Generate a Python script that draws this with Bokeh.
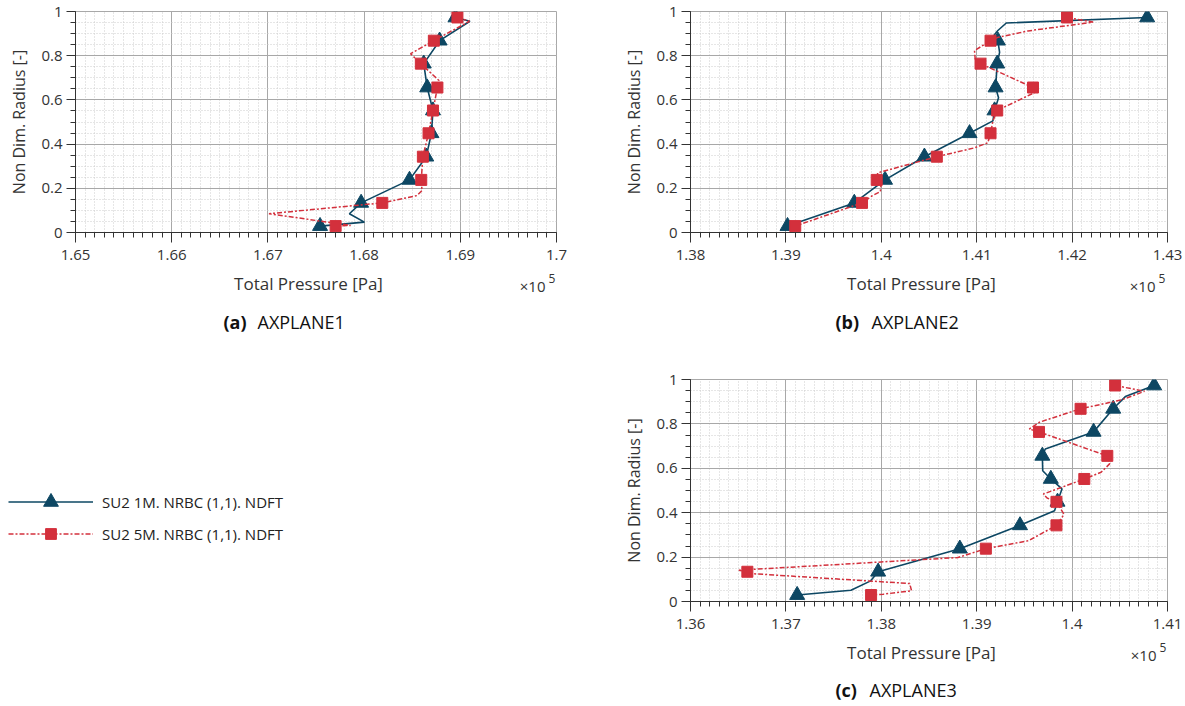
from bokeh.plotting import figure
from bokeh.layouts import row, column
from bokeh.models import (Range1d, SingleIntervalTicker, PrintfTickFormatter, Label,
                          Legend, LegendItem)
from bokeh.embed import file_html
from bokeh.resources import INLINE

FONT = "Open Sans"
BLUE = "#0d4763"
RED = "#d3303c"
TXT = "#333333"

# ---------------- data (Total pressure in 1e5 Pa, non-dim radius) ----------------
r_markers = [0.029, 0.134, 0.238, 0.343, 0.449, 0.552, 0.656, 0.764, 0.868, 0.973]

# AXPLANE1
a_1m_markers = [1.67542, 1.67969, 1.68472, 1.68646, 1.68700, 1.68716, 1.68656, 1.68620, 1.68785, 1.68950]
a_5m_markers = [1.67704, 1.68189, 1.68594, 1.68611, 1.68670, 1.68716, 1.68762, 1.68590, 1.68725, 1.68970]
a_1m_curve_p = [1.68950, 1.69100, 1.68785, 1.68620, 1.68656, 1.68716, 1.68700, 1.68646, 1.68472,
                1.67969, 1.67847, 1.68003, 1.67542]
a_1m_curve_r = [0.973, 0.956, 0.868, 0.764, 0.656, 0.552, 0.449, 0.343, 0.238,
                0.134, 0.085, 0.047, 0.029]
a_5m_curve_p = [1.68970, 1.69095, 1.68725, 1.68483, 1.68590, 1.68778, 1.68762, 1.68716, 1.68670,
                1.68611, 1.68594, 1.68602, 1.68550, 1.68189, 1.67011, 1.67860, 1.67704]
a_5m_curve_r = [0.973, 0.956, 0.868, 0.809, 0.764, 0.688, 0.656, 0.552, 0.449,
                0.343, 0.238, 0.190, 0.167, 0.134, 0.085, 0.032, 0.029]

# AXPLANE2
b_1m_markers = [1.39017, 1.39717, 1.40039, 1.40452, 1.40925, 1.41187, 1.41198, 1.41215, 1.41222, 1.42787]
b_5m_markers = [1.39098, 1.39798, 1.39952, 1.40582, 1.41145, 1.41215, 1.41590, 1.41040, 1.41145, 1.41947]
b_1m_curve_p = [1.42787, 1.41310, 1.41222, 1.41180, 1.41222, 1.41240, 1.41215, 1.41198, 1.41229,
                1.41187, 1.41170, 1.40925, 1.40452, 1.40039, 1.39717, 1.39017]
b_1m_curve_r = [0.973, 0.948, 0.914, 0.891, 0.868, 0.815, 0.764, 0.656, 0.610,
                0.552, 0.505, 0.449, 0.343, 0.238, 0.134, 0.029]
b_5m_curve_p = [1.41947, 1.42220, 1.41537, 1.41222, 1.41145, 1.40977, 1.40984, 1.41040, 1.41590,
                1.41607, 1.41215, 1.41170, 1.41145, 1.41117, 1.40977, 1.40582, 1.39962, 1.39952,
                1.39997, 1.39990, 1.39900, 1.39798, 1.39098]
b_5m_curve_r = [0.973, 0.952, 0.912, 0.883, 0.868, 0.823, 0.785, 0.764, 0.656,
                0.633, 0.552, 0.505, 0.449, 0.406, 0.383, 0.343, 0.270, 0.238,
                0.215, 0.185, 0.165, 0.134, 0.029]

# AXPLANE3
c_1m_markers = [1.37118, 1.37967, 1.38823, 1.39454, 1.39847, 1.39777, 1.39688, 1.40225, 1.40431, 1.40860]
c_5m_markers = [1.37893, 1.36596, 1.39096, 1.39836, 1.39836, 1.40128, 1.40369, 1.39653, 1.40089, 1.40451]
c_1m_curve_p = [1.40860, 1.40558, 1.40431, 1.40225, 1.39719, 1.39688, 1.39692, 1.39777, 1.39894,
                1.39863, 1.39847, 1.39816, 1.39454, 1.38823, 1.37967, 1.37889, 1.37682, 1.37118]
c_1m_curve_r = [0.973, 0.923, 0.868, 0.764, 0.687, 0.656, 0.589, 0.552, 0.507,
                0.470, 0.449, 0.409, 0.343, 0.238, 0.134, 0.093, 0.051, 0.029]
c_5m_curve_p = [1.40451, 1.40759, 1.40517, 1.40089, 1.39660, 1.39551, 1.39653, 1.40369, 1.40393,
                1.40304, 1.40128, 1.39699, 1.39738, 1.39836, 1.39914, 1.39895, 1.39836, 1.39544,
                1.39096, 1.38804, 1.36506, 1.36596, 1.36623, 1.38298, 1.38317, 1.38022, 1.37893]
c_5m_curve_r = [0.973, 0.947, 0.908, 0.868, 0.808, 0.777, 0.764, 0.656, 0.620,
                0.582, 0.552, 0.484, 0.466, 0.449, 0.394, 0.379, 0.343, 0.274,
                0.238, 0.198, 0.141, 0.134, 0.126, 0.081, 0.048, 0.033, 0.029]

series_labels = ["SU2 1M. NRBC (1,1). NDFT", "SU2 5M. NRBC (1,1). NDFT"]
x_label = "Total Pressure [Pa]"
y_label = "Non Dim. Radius [-]"

RED_DASH = "5 2 2 2"


def add_text(p, x, y, text, size, align="left", bold=False, color=TXT):
    p.add_layout(Label(x=x, y=y, x_units="screen", y_units="screen", text=text,
                       text_align=align, text_baseline="alphabetic", text_font=FONT,
                       text_font_size=size, text_font_style="bold" if bold else "normal",
                       text_color=color))


def blank(width, height):
    f = figure(width=width, height=height, x_range=Range1d(0, 1), y_range=Range1d(0, 1),
               x_axis_type=None, y_axis_type=None, output_backend="svg", toolbar_location=None,
               min_border=0, outline_line_color=None)
    f.grid.visible = False
    return f


def make_panel(x_lo, x_hi, width, height, b_left, b_right, b_top, b_bottom,
               m1, m5, c1p, c1r, c5p, c5r):
    p = figure(width=width, height=height, x_range=Range1d(x_lo, x_hi), y_range=Range1d(0, 1),
               output_backend="svg", toolbar_location=None,
               min_border_left=b_left, min_border_right=b_right,
               min_border_top=b_top, min_border_bottom=b_bottom)
    xt = SingleIntervalTicker(interval=0.01, num_minor_ticks=10)
    yt = SingleIntervalTicker(interval=0.2, num_minor_ticks=4)
    p.xaxis.ticker = xt
    p.yaxis.ticker = yt
    p.xgrid.ticker = xt
    p.ygrid.ticker = yt
    p.xaxis.formatter = PrintfTickFormatter(format="%.6g")
    p.yaxis.formatter = PrintfTickFormatter(format="%.6g")

    for ax in (p.xaxis[0], p.yaxis[0]):
        ax.axis_line_color = TXT
        ax.major_tick_line_color = TXT
        ax.minor_tick_line_color = TXT
        ax.major_tick_in = 0
        ax.minor_tick_in = 0
        ax.minor_tick_out = 5
        ax.major_label_text_font = FONT
        ax.major_label_text_font_size = "15px"
        ax.major_label_text_color = TXT
        ax.axis_label_text_font = FONT
        ax.axis_label_text_font_size = "16px"
        ax.axis_label_text_font_style = "normal"
        ax.axis_label_text_color = TXT
    p.xaxis.major_tick_out = 10
    p.yaxis.major_tick_out = 9
    p.yaxis.axis_label = y_label
    p.xaxis.major_label_standoff = 7
    p.yaxis.major_label_standoff = 4
    p.yaxis.axis_label_standoff = 8

    p.grid.grid_line_color = "#a8a8a8"
    p.grid.grid_line_width = 1
    p.grid.minor_grid_line_color = "#cdcdcd"
    p.grid.minor_grid_line_dash = "1 2"
    p.outline_line_color = "#a8a8a8"

    p.line(c1p, c1r, color=BLUE, line_width=1.6)
    p.scatter(m1, r_markers, marker="triangle", size=15, color=BLUE)
    p.line(c5p, c5r, color=RED, line_width=1.5, line_dash=RED_DASH)
    p.scatter(m5, r_markers, marker="square", size=11, color=RED)
    return p


# strip under each panel: its frame is aligned with the panel frame, so x is measured
# from the panel frame's left edge
def make_strip(width, height, label_cx, xr, base_label, base_x10, tag, name, tag_x, name_x, base_cap):
    s = blank(width, height)
    add_text(s, label_cx, base_label, x_label, "17px", align="center")
    add_text(s, xr, base_x10, "×10", "15px", align="right")
    add_text(s, xr + 3, base_x10 + 7, "5", "12px")
    add_text(s, tag_x, base_cap, tag, "18px", bold=True, color="#111111")
    add_text(s, name_x, base_cap, name, "18px", color="#111111")
    return s


pa = make_panel(1.65, 1.70, 600, 270, 75, 44, 11, 38,
                a_1m_markers, a_5m_markers, a_1m_curve_p, a_1m_curve_r, a_5m_curve_p, a_5m_curve_r)
sa = make_strip(600, 80, 233, 470, 67, 65, "(a)", "AXPLANE1", 148, 182, 29)

pb = make_panel(1.38, 1.43, 585, 270, 90, 18, 11, 38,
                b_1m_markers, b_5m_markers, b_1m_curve_p, b_1m_curve_r, b_5m_curve_p, b_5m_curve_r)
sb = make_strip(585, 80, 231, 465, 67, 65, "(b)", "AXPLANE2", 145, 181, 29)

pc = make_panel(1.36, 1.41, 585, 289, 90, 18, 29, 38,
                c_1m_markers, c_5m_markers, c_1m_curve_p, c_1m_curve_r, c_5m_curve_p, c_5m_curve_r)
sc = make_strip(585, 67, 231, 466, 54, 52, "(c)", "AXPLANE3", 145, 179, 17)

# legend panel: hidden renderers (legend samples only), shown through Legend objects
lf = blank(600, 356)
l1 = lf.line(c_1m_curve_p, c_1m_curve_r, color=BLUE, line_width=1.6, visible=False)
s1 = lf.scatter(c_1m_markers, r_markers, marker="triangle", color=BLUE, visible=False)
l2 = lf.line(c_5m_curve_p, c_5m_curve_r, color=RED, line_width=1.5, line_dash=RED_DASH, visible=False)
s2 = lf.scatter(c_5m_markers, r_markers, marker="square", color=RED, visible=False)


def make_legend(item, loc, gh):
    return Legend(items=[item], location=loc, glyph_width=85, glyph_height=gh,
                  padding=0, margin=0, border_line_color=None, background_fill_alpha=0,
                  label_standoff=9, label_text_font=FONT, label_text_font_size="15px",
                  label_text_color="#222222", spacing=0, inactive_fill_alpha=0)


lf.add_layout(make_legend(LegendItem(label=series_labels[0], renderers=[l1, s1]), (8, 186), 37))
lf.add_layout(make_legend(LegendItem(label=series_labels[1], renderers=[l2, s2]), (8, 159), 27))

layout = column(row(column(pa, sa), column(pb, sb)), row(lf, column(pc, sc)))
open("out.html", "w").write(file_html(layout, INLINE))
